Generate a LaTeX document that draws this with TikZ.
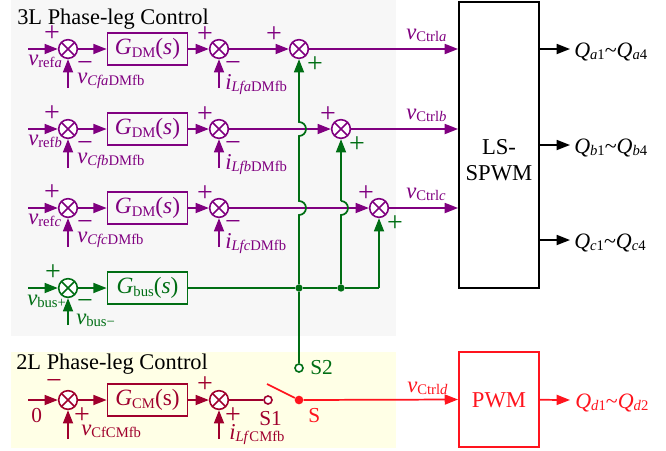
\documentclass[tikz,border=0pt]{standalone}
\usepackage{fontspec}
\setmainfont{Liberation Serif}
\usetikzlibrary{arrows.meta,positioning,fit}
\definecolor{dmpurple}{RGB}{128,0,128}
\definecolor{busgreen}{RGB}{0,110,20}
\definecolor{cmred}{RGB}{160,0,45}
\definecolor{outred}{RGB}{255,20,30}
\definecolor{panelgray}{RGB}{247,247,247}
\definecolor{panelyellow}{RGB}{255,255,230}
\newcommand{\symsub}[2]{\textit{#1}\raisebox{-2.2pt}{\fontsize{11}{11}\selectfont #2}}
\newcommand{\gainsub}[3]{\textit{G}\raisebox{-2.5pt}{\fontsize{11}{11}\selectfont #1}(#2#3)}
\begin{document}
\begin{tikzpicture}[x=0.75pt,y=-0.75pt,
  arr/.style={-{Triangle[length=10pt,width=7.5pt]},line width=1.3pt},
  wire/.style={line width=1.3pt},
  sumjoint/.style={draw,circle,minimum size=14pt,inner sep=0pt,line width=1.2pt,fill=white,
    path picture={\draw[line width=1.1pt] (path picture bounding box.north west) -- (path picture bounding box.south east)
      (path picture bounding box.north east) -- (path picture bounding box.south west);}},
  ctrlblock/.style={draw,line width=1.3pt,minimum width=60pt,minimum height=24pt,inner sep=0pt,font=\fontsize{17.5}{18}\selectfont},
  sgn/.style={font=\fontsize{21}{21}\selectfont,inner sep=0pt},
  lab/.style={font=\fontsize{17}{18}\selectfont,inner sep=0pt,anchor=base west},
  qlab/.style={font=\fontsize{16.5}{18}\selectfont,inner sep=0pt,anchor=base west},
  swlab/.style={font=\fontsize{16}{18}\selectfont,inner sep=0pt,anchor=base west},
  title/.style={font=\fontsize{16.8}{18}\selectfont,inner sep=0pt,anchor=base west},
  tapdot/.style={circle,fill,inner sep=0pt,minimum size=5.5pt},
  swpole/.style={draw,circle,fill=white,inner sep=0pt,minimum size=6pt,line width=1.2pt},
  bigblock/.style={draw,line width=1.4pt,inner sep=0pt,minimum width=60pt},
  blocktext/.style={align=center,inner sep=0pt,font=\fontsize{17}{20}\selectfont}
]
\useasboundingbox (0,0) rectangle (666,450);
% panels
\fill[panelgray] (11,0) rectangle (396,336);
\fill[panelyellow] (11,352) rectangle (396,448);
\node[title] (title3L) at (17,24) {3L Phase-leg Control};
\node[title] (title2L) at (16,369) {2L Phase-leg Control};
% modulators
\node[bigblock,minimum height=214.5pt] (lsspwm) at (499,145) {};
\node[blocktext] (lstext) at (499,160) {LS-\\SPWM};
\node[bigblock,outred,minimum height=71pt] (pwm) at (499,399.5) {};
\node[blocktext,outred] (pwmtext) at (499,400) {PWM};
% three phase rows
\foreach \ph/\y/\xc/\xp in {a/49/299/25,b/129/341/13,c/208/379/13}{
  \begin{scope}[dmpurple]
    \coordinate (in\ph) at (28,\y);
    \node[sumjoint] (sa\ph) at (68,\y) {};
    \node[ctrlblock] (gdm\ph) at (147.5,\y) {\gainsub{DM}{\textit{s}}{}};
    \node[sumjoint] (sb\ph) at (219,\y) {};
    \node[sumjoint] (sc\ph) at (\xc,\y) {};
    \coordinate (fa\ph) at (68,\y+39);
    \coordinate (fb\ph) at (219,\y+39);
    \draw[arr] (in\ph) -- (sa\ph);
    \draw[arr] (sa\ph) -- (gdm\ph);
    \draw[arr] (gdm\ph) -- (sb\ph);
    \draw[arr] (sb\ph) -- (sc\ph);
    \draw[arr] (fa\ph) -- (sa\ph);
    \draw[arr] (fb\ph) -- (sb\ph);
    \draw[arr] (sc\ph) -- (lsspwm.west |- sc\ph);
    \node[sgn] (pa\ph) at (52,\y-15) {+};
    \node[sgn] (ma\ph) at (85,\y+17) {−};
    \node[sgn] (pb\ph) at (205,\y-14) {+};
    \node[sgn] (mb\ph) at (233,\y+17) {−};
    \node[sgn] (pc\ph) at (\xc-\xp,\y-14) {+};
    \node[lab] (lref\ph) at (28,\y+16) {\symsub{v}{ref\textit{\ph}}};
    \node[lab] (lfa\ph) at (77,\y+34) {\symsub{v}{\textit{Cf\ph}DMfb}};
    \node[lab] (lfb\ph) at (225,\y+40) {\symsub{i}{\textit{Lf\ph}DMfb}};
    \node[lab] (lctrl\ph) at (406,\y-10) {\symsub{v}{Ctrl\textit{\ph}}};
  \end{scope}
  \node[sgn,busgreen] (pg\ph) at (\xc+16,\y+16) {+};
}
% gate signal outputs
\foreach \ph/\y in {a/49,b/145,c/240}{
  \coordinate (q\ph) at (570,\y);
  \draw[arr] (lsspwm.east |- q\ph) -- (q\ph);
  \node[qlab] (lq\ph) at (574,\y+8) {\symsub{Q}{\textit{\ph}1}\char`~\symsub{Q}{\textit{\ph}4}};
}
% bus row
\begin{scope}[busgreen]
  \coordinate (inbus) at (28,288);
  \node[sumjoint] (sabus) at (68,288) {};
  \node[ctrlblock] (gbus) at (147.5,288) {\gainsub{bus}{\textit{s}}{}};
  \coordinate (fabus) at (68,325);
  \draw[arr] (inbus) -- (sabus);
  \draw[arr] (sabus) -- (gbus);
  \draw[arr] (fabus) -- (sabus);
  \node[sgn] (pabus) at (53,273) {+};
  \node[sgn] (mabus) at (85,304) {−};
  \node[lab] (lrefbus) at (27,305) {\symsub{v}{bus+}};
  \node[lab] (lfabus) at (76,324) {\symsub{v}{bus−}};
  \node[tapdot] (tap1) at (299,288) {};
  \node[tapdot] (tap2) at (341,288) {};
  \coordinate (tap3) at (379,288);
  \node[swpole] (s2) at (299,368) {};
  \node[swlab] (ls2) at (310,374) {S2};
  \draw[wire] (gbus) -- (tap1) -- (tap2) -- (tap3);
  \draw[arr] (tap3) -- (scc);
  % hops over the purple lines
  \draw[wire] (s2) -- (tap1) -- (299,215) arc (90:-90:7) -- (299,136) arc (90:-90:7) -- (299,120);
  \draw[arr] (299,120) -- (sca);
  \draw[wire] (tap2) -- (341,215) arc (90:-90:7);
  \draw[arr] (341,201) -- (scb);
\end{scope}
% CM row
\begin{scope}[cmred]
  \coordinate (incm) at (28,400);
  \node[sumjoint] (sacm) at (68,400) {};
  \node[ctrlblock] (gcm) at (147.5,400) {\gainsub{CM}{s}{}};
  \node[sumjoint] (sbcm) at (219,400) {};
  \node[swpole] (s1) at (268,400) {};
  \coordinate (facm) at (68,439);
  \coordinate (fbcm) at (219,439);
  \draw[arr] (incm) -- (sacm);
  \draw[arr] (sacm) -- (gcm);
  \draw[arr] (gcm) -- (sbcm);
  \draw[arr] (facm) -- (sacm);
  \draw[arr] (fbcm) -- (sbcm);
  \draw[wire] (sbcm) -- (s1);
  \node[sgn] (macm) at (54,384) {−};
  \node[sgn] (pacm) at (82,416) {+};
  \node[sgn] (pbcm) at (205,385) {+};
  \node[sgn] (pfcm) at (233,416) {+};
  \node[swlab] (lzero) at (31,422) {0};
  \node[lab] (lfacm) at (81,435) {\symsub{v}{CfCMfb}};
  \node[lab] (lfbcm) at (229,439) {\symsub{i}{\textit{Lf}CMfb}};
  \node[swlab] (ls1) at (259,425) {S1};
\end{scope}
% switch and PWM output
\begin{scope}[outred]
  \node[tapdot,minimum size=6.5pt] (spole) at (299,400) {};
  \coordinate (blade) at (267,384);
  \coordinate (qd) at (570,400);
  \draw[wire] (blade) -- (spole);
  \draw[arr] (spole) -- (pwm.west);
  \draw[arr] (pwm) -- (qd);
  \node[swlab] (ls) at (308,422) {S};
  \node[lab] (lctrld) at (407,392) {\symsub{v}{Ctrl\textit{d}}};
  \node[qlab] (lqd) at (575,408) {\symsub{Q}{\textit{d}1}\char`~\symsub{Q}{\textit{d}2}};
\end{scope}
\end{tikzpicture}
\end{document}
